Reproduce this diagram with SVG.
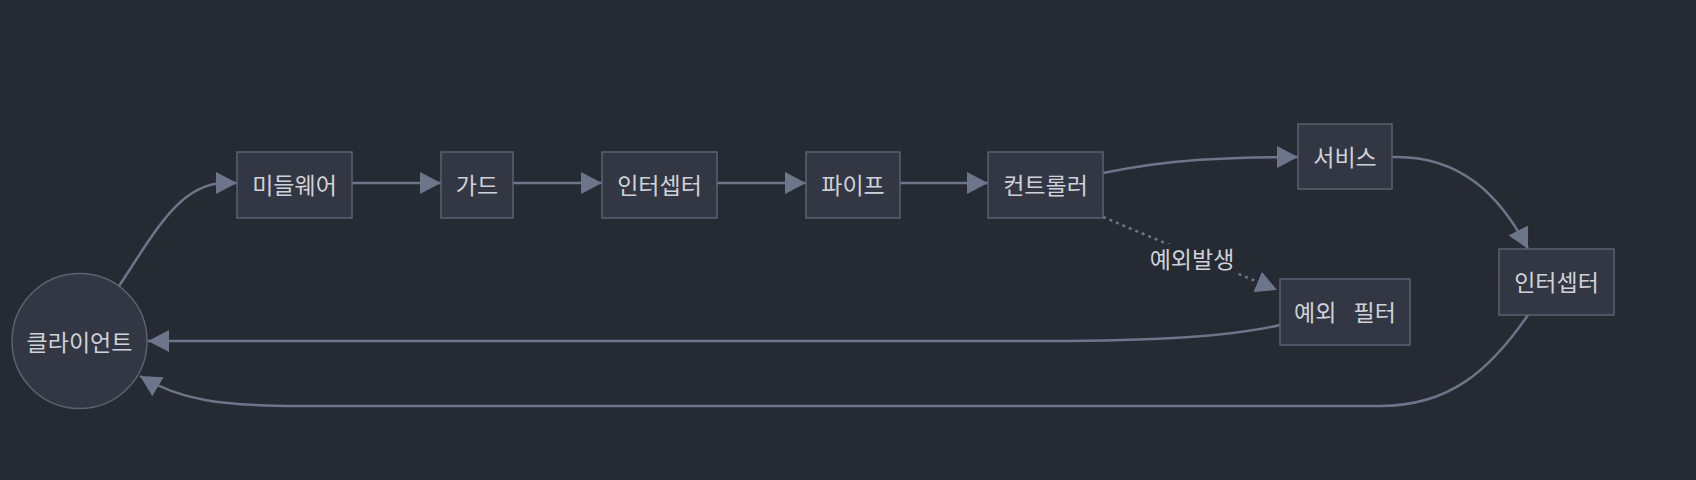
<svg xmlns="http://www.w3.org/2000/svg" width="1696" height="480" viewBox="0 0 1696 480">
<defs>
<style>
.node rect,.node circle{fill:#333743;stroke:#5c6273;stroke-width:1.5}
.node text,.lbl{font-family:"Noto Sans CJK KR","Noto Sans",sans-serif;font-size:23px;fill:#cfd2d8;text-anchor:middle;dominant-baseline:central}
.edge{fill:none;stroke:#6c7589;stroke-width:2.5}
.dot{stroke-dasharray:3 4}
</style>
<marker id="arr" markerUnits="userSpaceOnUse" markerWidth="22" markerHeight="22" refX="21" refY="11" orient="auto">
<path d="M0,0 L21,11 L0,22 z" fill="#6c7589"/>
</marker>
</defs>
<rect width="1696" height="480" fill="#262a33"/>
<g id="connectors">
<path class="edge" d="M119,286 C155,232 180,183 225,183 L237,183" marker-end="url(#arr)"/>
<path class="edge" d="M352,183 L441,183" marker-end="url(#arr)"/>
<path class="edge" d="M513,183 L602,183" marker-end="url(#arr)"/>
<path class="edge" d="M717,183 L806,183" marker-end="url(#arr)"/>
<path class="edge" d="M900,183 L988,183" marker-end="url(#arr)"/>
<path class="edge" d="M1103,173 C1170,159 1230,157 1298,157" marker-end="url(#arr)"/>
<path class="edge" d="M1392,157 C1460,155 1500,195 1528,249" marker-end="url(#arr)"/>
<path class="edge" d="M1528,315 C1490,370 1450,406 1380,406 L300,406 C220,406 180,400 140,376" marker-end="url(#arr)"/>
<path class="edge" d="M1280,325 C1230,337 1150,341 1050,341 L148,341" marker-end="url(#arr)"/>
<path class="edge dot" d="M1103,217 L1277,290" marker-end="url(#arr)"/>
<rect x="1145" y="244" width="94" height="29" fill="#262a33"/>
<text class="lbl" x="1192" y="258">예외발생</text>
</g>
<g id="client" class="node"><circle cx="79.5" cy="341" r="67.5"/><text x="79.5" y="341">클라이언트</text></g>
<g id="middleware" class="node"><rect x="237" y="152" width="115" height="66"/><text x="294.5" y="184">미들웨어</text></g>
<g id="guard" class="node"><rect x="441" y="152" width="72" height="66"/><text x="477" y="184">가드</text></g>
<g id="interceptor1" class="node"><rect x="602" y="152" width="115" height="66"/><text x="659.5" y="184">인터셉터</text></g>
<g id="pipe" class="node"><rect x="806" y="152" width="94" height="66"/><text x="853" y="184">파이프</text></g>
<g id="controller" class="node"><rect x="988" y="152" width="115" height="66"/><text x="1045.5" y="184">컨트롤러</text></g>
<g id="service" class="node"><rect x="1298" y="124" width="94" height="65"/><text x="1345" y="156">서비스</text></g>
<g id="exceptionfilter" class="node"><rect x="1280" y="279" width="130" height="66"/><text x="1345" y="311" word-spacing="12">예외 필터</text></g>
<g id="interceptor2" class="node"><rect x="1499" y="249" width="115" height="66"/><text x="1556.5" y="281">인터셉터</text></g>
</svg>
